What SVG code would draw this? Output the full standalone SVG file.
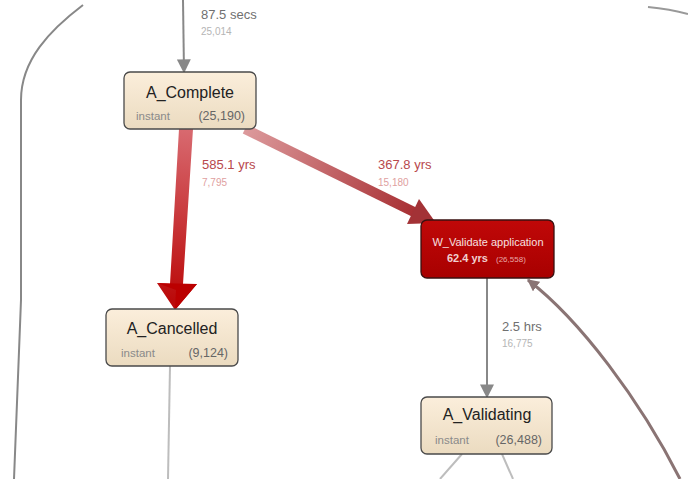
<svg xmlns="http://www.w3.org/2000/svg" width="688" height="479" viewBox="0 0 688 479">
<style>
.node rect{fill:url(#nf);stroke:#4a4a4a;stroke-width:1.3}
.title{font-family:"Liberation Sans",Arial,sans-serif;font-size:16px;fill:#222;text-anchor:middle}
.sub{font-family:"Liberation Sans",Arial,sans-serif;font-size:11.5px;fill:#8a8a8a}
.cnt{font-family:"Liberation Sans",Arial,sans-serif;font-size:12.5px;fill:#666;text-anchor:end}
.lbl{font-family:"Liberation Sans",Arial,sans-serif;font-size:13px;fill:#707070}
.lbl2{font-family:"Liberation Sans",Arial,sans-serif;font-size:10px;fill:#b5b5b5}
.rlbl{font-family:"Liberation Sans",Arial,sans-serif;font-size:13px;fill:#b8484c}
.rlbl2{font-family:"Liberation Sans",Arial,sans-serif;font-size:10px;fill:#e0a0a0}
.gray{fill:none;stroke:#888;stroke-width:2}
.light{fill:none;stroke:#bdbdbd;stroke-width:2}
</style>
<defs>
<linearGradient id="nf" x1="0" y1="0" x2="0" y2="1"><stop offset="0" stop-color="#fbeedb"/><stop offset="1" stop-color="#ebdbc0"/></linearGradient>
<linearGradient id="rf" x1="0" y1="0" x2="0" y2="1"><stop offset="0" stop-color="#c00808"/><stop offset="1" stop-color="#a80000"/></linearGradient>
<linearGradient id="g1" gradientUnits="userSpaceOnUse" x1="186" y1="129" x2="176" y2="300"><stop offset="0" stop-color="#d86a70"/><stop offset="1" stop-color="#bb0a0a"/></linearGradient>
<linearGradient id="g2" gradientUnits="userSpaceOnUse" x1="245" y1="129" x2="413" y2="212"><stop offset="0" stop-color="#dc9a9c"/><stop offset="1" stop-color="#a83034"/></linearGradient>
<marker id="ab" viewBox="0 0 10 10" refX="9" refY="5" markerWidth="12" markerHeight="12" orient="auto" markerUnits="userSpaceOnUse"><path d="M0,0L10,5L0,10z" fill="#8a7474"/></marker>
<marker id="agr" viewBox="0 0 10 10" refX="9" refY="5" markerWidth="14" markerHeight="14" orient="auto" markerUnits="userSpaceOnUse"><path d="M0,0L10,5L0,10z" fill="#888"/></marker>
</defs>
<rect width="688" height="479" fill="#fff"/>
<g id="connectors">
<path class="gray" d="M83,5 C50,30 21,60 21,100 L21,300 L14,479"/>
<path d="M648,7 Q670,9 688,14" fill="none" stroke="#999" stroke-width="2"/>
<line x1="183" y1="0" x2="184" y2="72" class="gray" marker-end="url(#agr)"/>
<path d="M179,129 L193,129 L183,284 L197,284 L175,310 L157,283 L170,284 Z" fill="url(#g1)"/>
<path d="M176,290 L157,283 L197,284 L175,310 Z" fill="#bb0000"/>
<line x1="245" y1="129" x2="414" y2="212" stroke="url(#g2)" stroke-width="10"/>
<path d="M436,223 L407,224 L419,199 Z" fill="#a33236"/>
<line x1="487" y1="278" x2="487" y2="397" class="gray" marker-end="url(#agr)"/>
<path d="M680,479 C640,400 580,320 528,280" fill="none" stroke="#8a7474" stroke-width="3" marker-end="url(#ab)"/>
<line x1="170" y1="366" x2="168" y2="479" class="light"/>
<line x1="462" y1="454" x2="440" y2="479" class="light"/>
<line x1="502" y1="454" x2="513" y2="479" class="light"/>
<text class="lbl" x="201" y="19">87.5 secs</text>
<text class="lbl2" x="201" y="35">25,014</text>
<text class="rlbl" x="202" y="169">585.1 yrs</text>
<text class="rlbl2" x="202" y="186">7,795</text>
<text class="rlbl" x="378" y="169">367.8 yrs</text>
<text class="rlbl2" x="378" y="186">15,180</text>
<text class="lbl" x="502" y="331">2.5 hrs</text>
<text class="lbl2" x="502" y="347">16,775</text>
</g>
<g id="A_Complete" class="node">
<rect x="124" y="72" width="132" height="57" rx="6"/>
<text class="title" x="190" y="98">A_Complete</text>
<text class="sub" x="136" y="120">instant</text>
<text class="cnt" x="245" y="120">(25,190)</text>
</g>
<g id="A_Cancelled" class="node">
<rect x="106" y="309" width="132" height="57" rx="6"/>
<text class="title" x="172" y="334">A_Cancelled</text>
<text class="sub" x="121" y="357">instant</text>
<text class="cnt" x="228" y="357">(9,124)</text>
</g>
<g id="W_Validate_application">
<rect x="421" y="220" width="133" height="58" rx="6" fill="url(#rf)" stroke="#3a1010" stroke-width="1.3"/>
<text x="488" y="246" font-family="Liberation Sans,Arial,sans-serif" font-size="11" fill="#f6e0e0" text-anchor="middle">W_Validate application</text>
<text x="447" y="262" font-family="Liberation Sans,Arial,sans-serif" font-size="11" font-weight="bold" fill="#f0d0d0">62.4 yrs</text>
<text x="496" y="262" font-family="Liberation Sans,Arial,sans-serif" font-size="8" fill="#e8a8a8">(26,558)</text>
</g>
<g id="A_Validating" class="node">
<rect x="421" y="397" width="131" height="57" rx="6"/>
<text class="title" x="487" y="420">A_Validating</text>
<text class="sub" x="435" y="444">instant</text>
<text class="cnt" x="542" y="444">(26,488)</text>
</g>
</svg>
